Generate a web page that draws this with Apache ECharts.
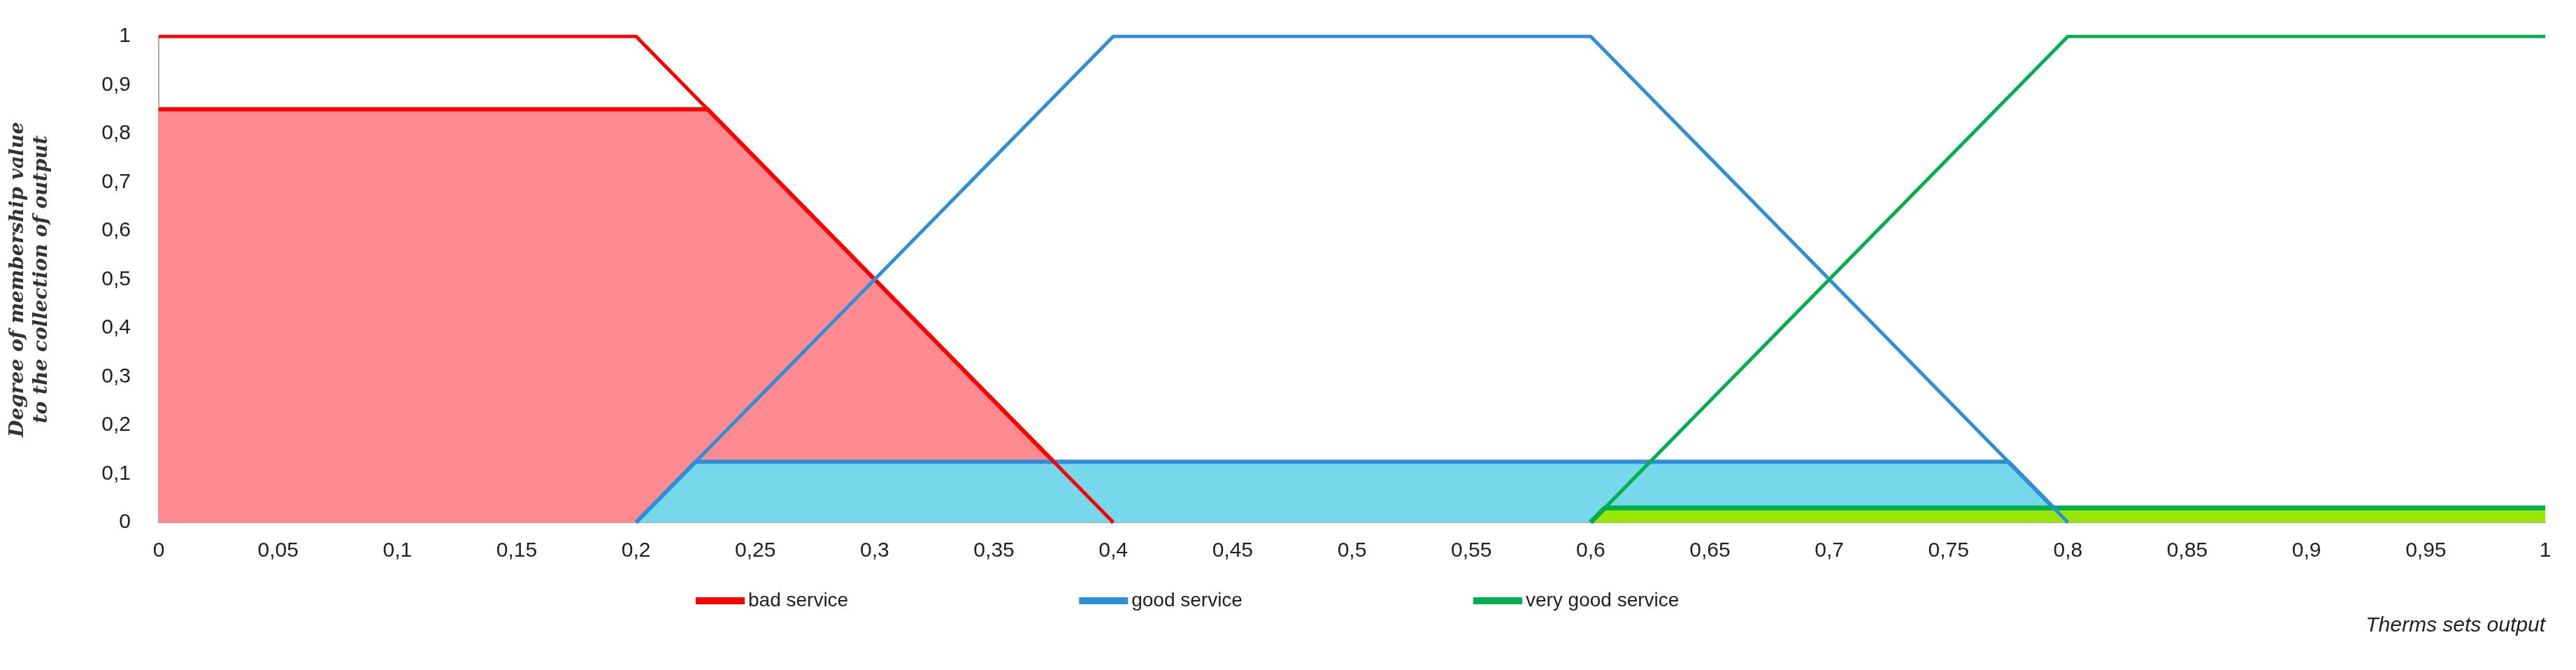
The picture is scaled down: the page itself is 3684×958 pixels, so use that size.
<!DOCTYPE html>
<html>
<head>
<meta charset="utf-8">
<script src="https://cdn.jsdelivr.net/npm/echarts@6/dist/echarts.min.js"></script>
<style>html,body{margin:0;padding:0;background:#fff}#chart{width:3684px;height:958px}</style>
</head>
<body>
<div id="chart"></div>
<script>
// membership functions
var bad = [[0, 1], [0.2, 1], [0.4, 0]];
var good = [[0.2, 0], [0.4, 1], [0.6, 1], [0.8, 0]];
var veryGood = [[0.6, 0], [0.8, 1], [1, 1]];

// clipped (output) sets
var badCut = [[0, 0.85], [0.23, 0.85], [0.4, 0]];
var goodCut = [[0.2, 0], [0.225, 0.125], [0.775, 0.125], [0.8, 0]];
var veryGoodCut = [[0.6, 0], [0.606, 0.03], [1, 0.03]];

var legendNames = ['bad service', 'good service', 'very good service'];

let chart = echarts.init(document.getElementById('chart'));

var font = 'Liberation Sans Narrow, Liberation Sans, sans-serif';

function comma(v) {
    return String(+v.toFixed(2)).replace('.', ',');
}

var option = {
    animation: false,
    textStyle: { fontFamily: font },
    grid: { left: 227, right: 44, top: 52, bottom: 211 },
    legend: {
        data: legendNames,
        bottom: 80,
        left: 990,
        itemGap: 330,
        itemWidth: 70,
        itemHeight: 10,
        icon: 'rect',
        textStyle: { fontSize: 28, fontFamily: font, color: '#222' }
    },
    xAxis: {
        type: 'value', min: 0, max: 1, interval: 0.05,
        splitLine: { show: false },
        axisLine: { lineStyle: { color: '#aaa', width: 2 } },
        axisTick: { show: false },
        axisLabel: { fontSize: 30, color: '#222', margin: 26, formatter: comma }
    },
    yAxis: {
        type: 'value', min: 0, max: 1, interval: 0.1,
        splitLine: { show: false },
        axisLine: { show: true, lineStyle: { color: '#aaa', width: 2 } },
        axisTick: { show: false },
        axisLabel: { fontSize: 30, color: '#222', margin: 40, formatter: comma },
        name: 'Degree of membership value\nto the collection of output',
        nameLocation: 'middle',
        nameRotate: 90,
        nameGap: 150,
        nameTextStyle: { fontSize: 28, fontStyle: 'italic', fontWeight: 'bold', color: '#333', fontFamily: 'DejaVu Serif, serif', lineHeight: 34 }
    },
    graphic: [{
        type: 'text', right: 44, top: 880,
        style: { text: 'Therms sets output', fontSize: 30, fontStyle: 'italic', fill: '#222', fontFamily: font }
    }],
    series: [
        {
            name: 'badCut', type: 'line', data: badCut, symbol: 'none', z: 1,
            lineStyle: { color: '#ff0000', width: 6 },
            areaStyle: { color: '#ff8a8f', opacity: 1 }
        },
        {
            name: 'goodCut', type: 'line', data: goodCut, symbol: 'none', z: 2,
            lineStyle: { color: '#2e8fd8', width: 6 },
            areaStyle: { color: '#76d8ea', opacity: 1 }
        },
        {
            name: 'veryGoodCut', type: 'line', data: veryGoodCut, symbol: 'none', z: 3,
            lineStyle: { color: '#00b050', width: 7 },
            areaStyle: { color: '#99e600', opacity: 1 }
        },
        {
            name: legendNames[0], type: 'line', data: bad, symbol: 'none', z: 4,
            lineStyle: { color: '#ff0000', width: 5 }, itemStyle: { color: '#ff0000' }
        },
        {
            name: legendNames[1], type: 'line', data: good, symbol: 'none', z: 4,
            lineStyle: { color: '#2e8fd8', width: 5 }, itemStyle: { color: '#2e8fd8' }
        },
        {
            name: legendNames[2], type: 'line', data: veryGood, symbol: 'none', z: 4,
            lineStyle: { color: '#00b050', width: 5 }, itemStyle: { color: '#00b050' }
        }
    ]
};

chart.setOption(option);
</script>
</body>
</html>
